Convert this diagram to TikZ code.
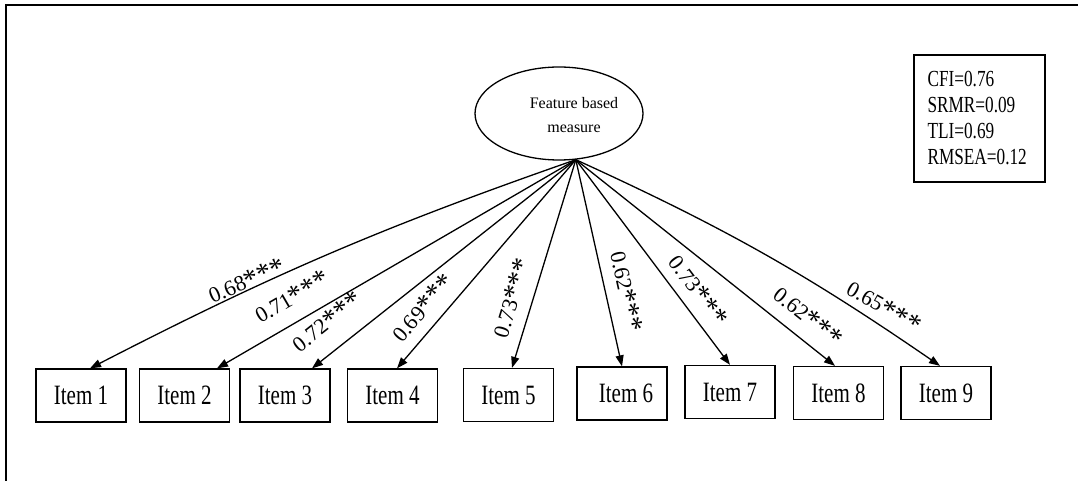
\documentclass[tikz,border=0pt]{standalone}
\usepackage{fontspec}
\setmainfont{Liberation Serif}
\newfontfamily\condserif{Liberation Serif}[FakeStretch=0.75]
\usetikzlibrary{arrows.meta,shapes.geometric}
% significance marker: three enlarged asterisks
\newcommand\sigmark{\raisebox{-2pt}{\scalebox{1.3}{*}}\raisebox{-2pt}{\scalebox{1.3}{*}}\raisebox{-2pt}{\scalebox{1.3}{*}}}

\begin{document}
\begin{tikzpicture}[x=1pt,y=-1pt,
  itembox/.style={draw, line width=1.3pt, minimum width=90pt, minimum height=53pt,
    inner sep=0pt, font=\condserif\fontsize{28}{30}\selectfont},
  load/.style={line width=1.3pt, -{Triangle[length=11pt,width=8pt]}},
  coef/.style={font=\fontsize{22}{24}\selectfont, inner sep=0pt},
  latent/.style={ellipse, draw, line width=1.3pt, minimum width=168pt, minimum height=93pt, inner sep=0pt},
  fitbox/.style={draw, line width=1.2pt, minimum width=131pt, minimum height=127pt,
    text width=104pt, align=left, inner sep=0pt, font=\condserif\fontsize{23}{26}\selectfont}
]
\useasboundingbox (0,0) rectangle (1078,481);
\fill[white] (0,0) rectangle (1078,481);
% frame edges
\draw[line width=2.2pt] (6,481) -- (6,5) -- (1078,5);

% latent factor
\node[latent] (fb) at (559,113.5) {};
\node[font=\fontsize{16}{24}\selectfont, align=center, inner sep=0pt] (fbt) at (574,115) {Feature based\\measure};
\coordinate (apex) at (fb.-70);

% fit indices
\node[fitbox] (fit) at (979.5,118.5) {CFI=0.76\\SRMR=0.09\\TLI=0.69\\RMSEA=0.12};

% indicators
\node[itembox] (i1) at (81,395.5) {Item 1};
\node[itembox] (i2) at (184.5,395.5) {Item 2};
\node[itembox] (i3) at (285,395.5) {Item 3};
\node[itembox] (i4) at (392.5,395.5) {Item 4};
\node[itembox] (i5) at (508.5,395) {Item 5};
\node[itembox] (i6) at (622,393.5) {\hspace{8pt}Item 6};
\node[itembox] (i7) at (730,392) {Item 7};
\node[itembox] (i8) at (838.5,393) {Item 8};
\node[itembox] (i9) at (946,393) {Item 9};

% loadings
\draw[load] (apex) to[bend right=4] ([xshift=9pt]i1.north);
\draw[load] (apex) -- ([xshift=32.5pt]i2.north);
\draw[load] (apex) -- ([xshift=27pt]i3.north);
\draw[load] (apex) -- ([xshift=4.5pt]i4.north);
\draw[load] (apex) -- ([xshift=3.5pt]i5.north);
\draw[load] (apex) -- (i6.north);
\draw[load] (apex) -- (i7.north);
\draw[load] (apex) -- ([xshift=-3.5pt]i8.north);
\draw[load] (apex) to[bend left=5] ([xshift=-6pt]i9.north);

% loading coefficients
\node[coef, rotate=23.3] (l1) at (247,281) {0.68\sigmark};
\node[coef, rotate=30.2] (l2) at (292,297) {0.71\sigmark};
\node[coef, rotate=38.4] (l3) at (327,322) {0.72\sigmark};
\node[coef, rotate=49.4] (l4) at (423,308) {0.69\sigmark};
\node[coef, rotate=73] (l5) at (512,298) {0.73\sigmark};
\node[coef, rotate=-77.5] (l6) at (626,292) {0.62\sigmark};
\node[coef, rotate=-53.1] (l7) at (698,291) {0.73\sigmark};
\node[coef, rotate=-38.6] (l8) at (808,317) {0.62\sigmark};
\node[coef, rotate=-29.6] (l9) at (884,307) {0.65\sigmark};
\end{tikzpicture}
\end{document}
